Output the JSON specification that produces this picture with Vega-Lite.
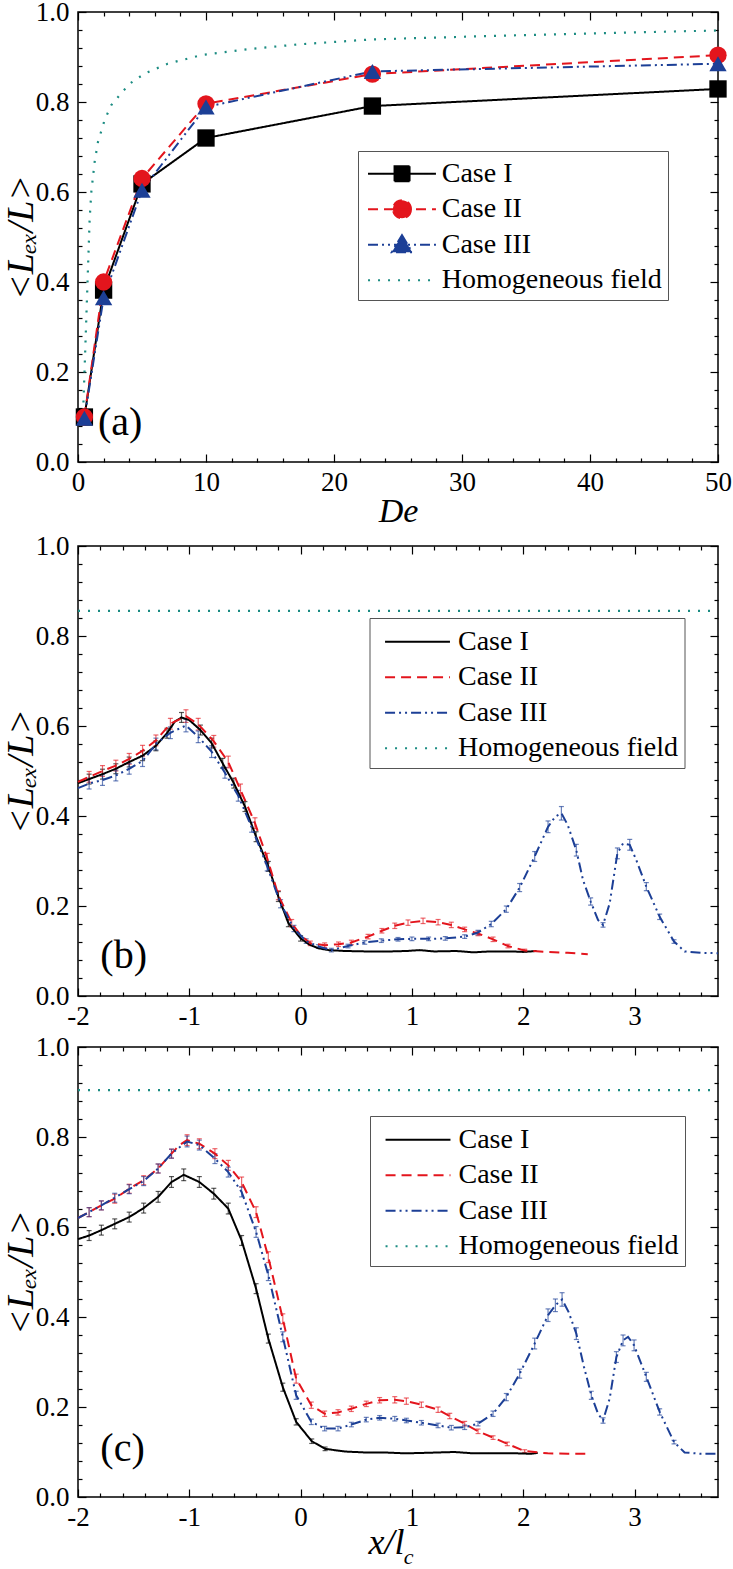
{
  "$schema": "https://vega.github.io/schema/vega-lite/v6.json",
  "padding": {"left": 1, "top": -3, "right": 0, "bottom": 0},
  "spacing": 2,
  "resolve": {"scale": {"color": "independent", "strokeDash": "independent", "shape": "independent"}, "legend": {"color": "independent"}},
  "config": {
    "view": {"stroke": "#000", "strokeWidth": 1.5},
    "font": "Liberation Serif",
    "axis": {"domain": false, "grid": false, "tickColor": "#000", "tickWidth": 1.2, "labelFont": "Liberation Serif", "labelFontSize": 27, "labelColor": "#000", "titleFont": "Liberation Serif", "titleFontWeight": "normal", "titleColor": "#000", "labelOverlap": false, "labelFlush": false}
  },
  "datasets": {
    "homA": [
      {"De": 0.4, "v": 0.11, "case": "Homogeneous field"},
      {"De": 0.52, "v": 0.21, "case": "Homogeneous field"},
      {"De": 0.65, "v": 0.32, "case": "Homogeneous field"},
      {"De": 0.78, "v": 0.43, "case": "Homogeneous field"},
      {"De": 0.91, "v": 0.54, "case": "Homogeneous field"},
      {"De": 1.04, "v": 0.6, "case": "Homogeneous field"},
      {"De": 1.3, "v": 0.667, "case": "Homogeneous field"},
      {"De": 1.56, "v": 0.711, "case": "Homogeneous field"},
      {"De": 2.08, "v": 0.76, "case": "Homogeneous field"},
      {"De": 2.6, "v": 0.793, "case": "Homogeneous field"},
      {"De": 3.1, "v": 0.81, "case": "Homogeneous field"},
      {"De": 4.0, "v": 0.84, "case": "Homogeneous field"},
      {"De": 5.2, "v": 0.863, "case": "Homogeneous field"},
      {"De": 7.0, "v": 0.885, "case": "Homogeneous field"},
      {"De": 9.6, "v": 0.904, "case": "Homogeneous field"},
      {"De": 13.5, "v": 0.918, "case": "Homogeneous field"},
      {"De": 17.2, "v": 0.928, "case": "Homogeneous field"},
      {"De": 22.9, "v": 0.939, "case": "Homogeneous field"},
      {"De": 33.8, "v": 0.948, "case": "Homogeneous field"},
      {"De": 50, "v": 0.959, "case": "Homogeneous field"}
    ],
    "caseA": [
      {"De": 0.5, "v": 0.1, "case": "Case I"},
      {"De": 2, "v": 0.382, "case": "Case I"},
      {"De": 5, "v": 0.618, "case": "Case I"},
      {"De": 10, "v": 0.72, "case": "Case I"},
      {"De": 23, "v": 0.791, "case": "Case I"},
      {"De": 50, "v": 0.829, "case": "Case I"},
      {"De": 0.5, "v": 0.1, "case": "Case II"},
      {"De": 2, "v": 0.4, "case": "Case II"},
      {"De": 5, "v": 0.63, "case": "Case II"},
      {"De": 10, "v": 0.796, "case": "Case II"},
      {"De": 23, "v": 0.862, "case": "Case II"},
      {"De": 50, "v": 0.904, "case": "Case II"},
      {"De": 0.5, "v": 0.097, "case": "Case III"},
      {"De": 2, "v": 0.365, "case": "Case III"},
      {"De": 5, "v": 0.604, "case": "Case III"},
      {"De": 10, "v": 0.789, "case": "Case III"},
      {"De": 23, "v": 0.868, "case": "Case III"},
      {"De": 50, "v": 0.885, "case": "Case III"}
    ],
    "homB": [
      {"x": -2, "v": 0.856, "case": "Homogeneous field"},
      {"x": 3.75, "v": 0.856, "case": "Homogeneous field"}
    ],
    "homC": [
      {"x": -2, "v": 0.904, "case": "Homogeneous field"},
      {"x": 3.75, "v": 0.904, "case": "Homogeneous field"}
    ],
    "caseB": [
      {"x": -2.0, "v": 0.473, "e": 0, "case": "Case I"},
      {"x": -1.9, "v": 0.482, "e": 0.011, "case": "Case I"},
      {"x": -1.78, "v": 0.493, "e": 0.011, "case": "Case I"},
      {"x": -1.66, "v": 0.505, "e": 0.011, "case": "Case I"},
      {"x": -1.54, "v": 0.52, "e": 0.011, "case": "Case I"},
      {"x": -1.42, "v": 0.534, "e": 0.011, "case": "Case I"},
      {"x": -1.3, "v": 0.556, "e": 0.011, "case": "Case I"},
      {"x": -1.2, "v": 0.584, "e": 0.011, "case": "Case I"},
      {"x": -1.13, "v": 0.61, "e": 0, "case": "Case I"},
      {"x": -1.07, "v": 0.619, "e": 0.011, "case": "Case I"},
      {"x": -1.0, "v": 0.613, "e": 0, "case": "Case I"},
      {"x": -0.9, "v": 0.591, "e": 0.011, "case": "Case I"},
      {"x": -0.8, "v": 0.562, "e": 0.011, "case": "Case I"},
      {"x": -0.7, "v": 0.517, "e": 0.011, "case": "Case I"},
      {"x": -0.6, "v": 0.473, "e": 0.011, "case": "Case I"},
      {"x": -0.5, "v": 0.421, "e": 0.011, "case": "Case I"},
      {"x": -0.4, "v": 0.354, "e": 0.011, "case": "Case I"},
      {"x": -0.29, "v": 0.288, "e": 0.011, "case": "Case I"},
      {"x": -0.2, "v": 0.221, "e": 0.011, "case": "Case I"},
      {"x": -0.11, "v": 0.162, "e": 0.008, "case": "Case I"},
      {"x": 0.0, "v": 0.128, "e": 0.006, "case": "Case I"},
      {"x": 0.08, "v": 0.114, "e": 0, "case": "Case I"},
      {"x": 0.16, "v": 0.106, "e": 0, "case": "Case I"},
      {"x": 0.25, "v": 0.102, "e": 0, "case": "Case I"},
      {"x": 0.4, "v": 0.1, "e": 0, "case": "Case I"},
      {"x": 0.6, "v": 0.099, "e": 0, "case": "Case I"},
      {"x": 0.8, "v": 0.099, "e": 0, "case": "Case I"},
      {"x": 0.95, "v": 0.1, "e": 0, "case": "Case I"},
      {"x": 1.07, "v": 0.102, "e": 0, "case": "Case I"},
      {"x": 1.2, "v": 0.099, "e": 0, "case": "Case I"},
      {"x": 1.4, "v": 0.1, "e": 0, "case": "Case I"},
      {"x": 1.55, "v": 0.097, "e": 0, "case": "Case I"},
      {"x": 1.7, "v": 0.099, "e": 0, "case": "Case I"},
      {"x": 1.9, "v": 0.099, "e": 0, "case": "Case I"},
      {"x": 2.0, "v": 0.098, "e": 0, "case": "Case I"},
      {"x": 2.12, "v": 0.1, "e": 0, "case": "Case I"},

      {"x": -2.0, "v": 0.476, "e": 0, "case": "Case II"},
      {"x": -1.9, "v": 0.487, "e": 0.012, "case": "Case II"},
      {"x": -1.78, "v": 0.5, "e": 0.012, "case": "Case II"},
      {"x": -1.66, "v": 0.512, "e": 0.012, "case": "Case II"},
      {"x": -1.54, "v": 0.527, "e": 0.012, "case": "Case II"},
      {"x": -1.42, "v": 0.545, "e": 0.012, "case": "Case II"},
      {"x": -1.3, "v": 0.568, "e": 0.012, "case": "Case II"},
      {"x": -1.17, "v": 0.605, "e": 0.012, "case": "Case II"},
      {"x": -1.03, "v": 0.622, "e": 0.014, "case": "Case II"},
      {"x": -0.92, "v": 0.604, "e": 0.013, "case": "Case II"},
      {"x": -0.78, "v": 0.566, "e": 0.013, "case": "Case II"},
      {"x": -0.65, "v": 0.52, "e": 0.013, "case": "Case II"},
      {"x": -0.54, "v": 0.458, "e": 0.013, "case": "Case II"},
      {"x": -0.41, "v": 0.384, "e": 0.012, "case": "Case II"},
      {"x": -0.3, "v": 0.306, "e": 0.011, "case": "Case II"},
      {"x": -0.2, "v": 0.224, "e": 0.01, "case": "Case II"},
      {"x": -0.08, "v": 0.162, "e": 0.008, "case": "Case II"},
      {"x": 0.0, "v": 0.135, "e": 0, "case": "Case II"},
      {"x": 0.087, "v": 0.117, "e": 0.005, "case": "Case II"},
      {"x": 0.216, "v": 0.113, "e": 0.005, "case": "Case II"},
      {"x": 0.34, "v": 0.115, "e": 0.005, "case": "Case II"},
      {"x": 0.456, "v": 0.119, "e": 0.005, "case": "Case II"},
      {"x": 0.606, "v": 0.132, "e": 0.005, "case": "Case II"},
      {"x": 0.73, "v": 0.145, "e": 0.005, "case": "Case II"},
      {"x": 0.846, "v": 0.156, "e": 0.006, "case": "Case II"},
      {"x": 0.965, "v": 0.163, "e": 0.006, "case": "Case II"},
      {"x": 1.1, "v": 0.167, "e": 0.006, "case": "Case II"},
      {"x": 1.235, "v": 0.164, "e": 0.006, "case": "Case II"},
      {"x": 1.354, "v": 0.158, "e": 0.006, "case": "Case II"},
      {"x": 1.474, "v": 0.148, "e": 0.005, "case": "Case II"},
      {"x": 1.594, "v": 0.139, "e": 0.005, "case": "Case II"},
      {"x": 1.729, "v": 0.126, "e": 0.005, "case": "Case II"},
      {"x": 1.863, "v": 0.111, "e": 0.004, "case": "Case II"},
      {"x": 2.013, "v": 0.101, "e": 0.003, "case": "Case II"},
      {"x": 2.22, "v": 0.098, "e": 0, "case": "Case II"},
      {"x": 2.4, "v": 0.096, "e": 0, "case": "Case II"},
      {"x": 2.58, "v": 0.093, "e": 0, "case": "Case II"},

      {"x": -2.0, "v": 0.462, "e": 0, "case": "Case III"},
      {"x": -1.9, "v": 0.472, "e": 0.012, "case": "Case III"},
      {"x": -1.78, "v": 0.48, "e": 0.012, "case": "Case III"},
      {"x": -1.66, "v": 0.49, "e": 0.012, "case": "Case III"},
      {"x": -1.54, "v": 0.505, "e": 0.012, "case": "Case III"},
      {"x": -1.42, "v": 0.522, "e": 0.012, "case": "Case III"},
      {"x": -1.3, "v": 0.56, "e": 0.013, "case": "Case III"},
      {"x": -1.17, "v": 0.585, "e": 0.013, "case": "Case III"},
      {"x": -1.03, "v": 0.601, "e": 0.014, "case": "Case III"},
      {"x": -0.92, "v": 0.576, "e": 0.013, "case": "Case III"},
      {"x": -0.8, "v": 0.543, "e": 0.013, "case": "Case III"},
      {"x": -0.68, "v": 0.496, "e": 0.012, "case": "Case III"},
      {"x": -0.56, "v": 0.445, "e": 0.012, "case": "Case III"},
      {"x": -0.44, "v": 0.375, "e": 0.011, "case": "Case III"},
      {"x": -0.3, "v": 0.288, "e": 0.01, "case": "Case III"},
      {"x": -0.18, "v": 0.205, "e": 0.009, "case": "Case III"},
      {"x": -0.06, "v": 0.15, "e": 0.007, "case": "Case III"},
      {"x": 0.05, "v": 0.122, "e": 0.005, "case": "Case III"},
      {"x": 0.16, "v": 0.11, "e": 0.004, "case": "Case III"},
      {"x": 0.276, "v": 0.102, "e": 0.004, "case": "Case III"},
      {"x": 0.426, "v": 0.111, "e": 0.004, "case": "Case III"},
      {"x": 0.576, "v": 0.119, "e": 0.004, "case": "Case III"},
      {"x": 0.725, "v": 0.123, "e": 0.004, "case": "Case III"},
      {"x": 0.875, "v": 0.126, "e": 0.004, "case": "Case III"},
      {"x": 1.0, "v": 0.127, "e": 0.004, "case": "Case III"},
      {"x": 1.15, "v": 0.127, "e": 0.004, "case": "Case III"},
      {"x": 1.3, "v": 0.128, "e": 0.004, "case": "Case III"},
      {"x": 1.474, "v": 0.132, "e": 0.004, "case": "Case III"},
      {"x": 1.594, "v": 0.141, "e": 0.005, "case": "Case III"},
      {"x": 1.713, "v": 0.16, "e": 0.006, "case": "Case III"},
      {"x": 1.848, "v": 0.193, "e": 0.007, "case": "Case III"},
      {"x": 1.968, "v": 0.241, "e": 0.009, "case": "Case III"},
      {"x": 2.103, "v": 0.31, "e": 0.011, "case": "Case III"},
      {"x": 2.223, "v": 0.376, "e": 0.013, "case": "Case III"},
      {"x": 2.289, "v": 0.399, "e": 0, "case": "Case III"},
      {"x": 2.343, "v": 0.406, "e": 0.015, "case": "Case III"},
      {"x": 2.4, "v": 0.38, "e": 0, "case": "Case III"},
      {"x": 2.477, "v": 0.324, "e": 0.013, "case": "Case III"},
      {"x": 2.537, "v": 0.258, "e": 0, "case": "Case III"},
      {"x": 2.606, "v": 0.21, "e": 0.008, "case": "Case III"},
      {"x": 2.672, "v": 0.169, "e": 0, "case": "Case III"},
      {"x": 2.717, "v": 0.158, "e": 0.005, "case": "Case III"},
      {"x": 2.777, "v": 0.206, "e": 0, "case": "Case III"},
      {"x": 2.846, "v": 0.317, "e": 0.012, "case": "Case III"},
      {"x": 2.897, "v": 0.339, "e": 0, "case": "Case III"},
      {"x": 2.957, "v": 0.336, "e": 0.012, "case": "Case III"},
      {"x": 3.016, "v": 0.302, "e": 0, "case": "Case III"},
      {"x": 3.106, "v": 0.243, "e": 0.009, "case": "Case III"},
      {"x": 3.226, "v": 0.176, "e": 0.006, "case": "Case III"},
      {"x": 3.355, "v": 0.121, "e": 0.004, "case": "Case III"},
      {"x": 3.45, "v": 0.099, "e": 0, "case": "Case III"},
      {"x": 3.6, "v": 0.096, "e": 0, "case": "Case III"},
      {"x": 3.75, "v": 0.095, "e": 0, "case": "Case III"}
    ],
    "caseC": [
      {"x": -2.0, "v": 0.573, "e": 0, "case": "Case I"},
      {"x": -1.9, "v": 0.581, "e": 0.011, "case": "Case I"},
      {"x": -1.79, "v": 0.593, "e": 0.011, "case": "Case I"},
      {"x": -1.67, "v": 0.607, "e": 0.011, "case": "Case I"},
      {"x": -1.54, "v": 0.622, "e": 0.011, "case": "Case I"},
      {"x": -1.41, "v": 0.642, "e": 0.011, "case": "Case I"},
      {"x": -1.28, "v": 0.667, "e": 0.012, "case": "Case I"},
      {"x": -1.16, "v": 0.7, "e": 0.012, "case": "Case I"},
      {"x": -1.05, "v": 0.716, "e": 0.013, "case": "Case I"},
      {"x": -0.91, "v": 0.7, "e": 0.012, "case": "Case I"},
      {"x": -0.78, "v": 0.674, "e": 0.012, "case": "Case I"},
      {"x": -0.65, "v": 0.641, "e": 0.012, "case": "Case I"},
      {"x": -0.53, "v": 0.57, "e": 0.011, "case": "Case I"},
      {"x": -0.4, "v": 0.463, "e": 0.011, "case": "Case I"},
      {"x": -0.29, "v": 0.352, "e": 0.01, "case": "Case I"},
      {"x": -0.16, "v": 0.244, "e": 0.009, "case": "Case I"},
      {"x": -0.04, "v": 0.167, "e": 0.007, "case": "Case I"},
      {"x": 0.1, "v": 0.124, "e": 0.005, "case": "Case I"},
      {"x": 0.22, "v": 0.107, "e": 0.004, "case": "Case I"},
      {"x": 0.4, "v": 0.101, "e": 0, "case": "Case I"},
      {"x": 0.58, "v": 0.099, "e": 0, "case": "Case I"},
      {"x": 0.75, "v": 0.099, "e": 0, "case": "Case I"},
      {"x": 0.94, "v": 0.097, "e": 0, "case": "Case I"},
      {"x": 1.1, "v": 0.098, "e": 0, "case": "Case I"},
      {"x": 1.385, "v": 0.1, "e": 0, "case": "Case I"},
      {"x": 1.55, "v": 0.097, "e": 0, "case": "Case I"},
      {"x": 1.77, "v": 0.097, "e": 0, "case": "Case I"},
      {"x": 1.95, "v": 0.097, "e": 0, "case": "Case I"},
      {"x": 2.07, "v": 0.096, "e": 0, "case": "Case I"},
      {"x": 2.13, "v": 0.098, "e": 0, "case": "Case I"},

      {"x": -2.0, "v": 0.62, "e": 0, "case": "Case II"},
      {"x": -1.9, "v": 0.633, "e": 0.01, "case": "Case II"},
      {"x": -1.79, "v": 0.648, "e": 0.01, "case": "Case II"},
      {"x": -1.67, "v": 0.663, "e": 0.01, "case": "Case II"},
      {"x": -1.54, "v": 0.685, "e": 0.01, "case": "Case II"},
      {"x": -1.41, "v": 0.704, "e": 0.01, "case": "Case II"},
      {"x": -1.28, "v": 0.73, "e": 0.01, "case": "Case II"},
      {"x": -1.16, "v": 0.763, "e": 0.01, "case": "Case II"},
      {"x": -1.09, "v": 0.782, "e": 0, "case": "Case II"},
      {"x": -1.02, "v": 0.793, "e": 0.012, "case": "Case II"},
      {"x": -0.91, "v": 0.785, "e": 0.011, "case": "Case II"},
      {"x": -0.77, "v": 0.763, "e": 0.011, "case": "Case II"},
      {"x": -0.65, "v": 0.737, "e": 0.011, "case": "Case II"},
      {"x": -0.53, "v": 0.7, "e": 0.011, "case": "Case II"},
      {"x": -0.4, "v": 0.633, "e": 0.012, "case": "Case II"},
      {"x": -0.29, "v": 0.533, "e": 0.012, "case": "Case II"},
      {"x": -0.16, "v": 0.396, "e": 0.011, "case": "Case II"},
      {"x": -0.04, "v": 0.263, "e": 0.01, "case": "Case II"},
      {"x": 0.096, "v": 0.204, "e": 0.007, "case": "Case II"},
      {"x": 0.216, "v": 0.185, "e": 0.006, "case": "Case II"},
      {"x": 0.336, "v": 0.188, "e": 0.006, "case": "Case II"},
      {"x": 0.456, "v": 0.196, "e": 0.006, "case": "Case II"},
      {"x": 0.59, "v": 0.207, "e": 0.006, "case": "Case II"},
      {"x": 0.71, "v": 0.215, "e": 0.006, "case": "Case II"},
      {"x": 0.846, "v": 0.216, "e": 0.007, "case": "Case II"},
      {"x": 0.95, "v": 0.213, "e": 0.007, "case": "Case II"},
      {"x": 1.085, "v": 0.205, "e": 0.006, "case": "Case II"},
      {"x": 1.235, "v": 0.194, "e": 0.006, "case": "Case II"},
      {"x": 1.34, "v": 0.18, "e": 0.006, "case": "Case II"},
      {"x": 1.474, "v": 0.163, "e": 0.005, "case": "Case II"},
      {"x": 1.594, "v": 0.146, "e": 0.005, "case": "Case II"},
      {"x": 1.729, "v": 0.132, "e": 0.004, "case": "Case II"},
      {"x": 1.857, "v": 0.118, "e": 0.004, "case": "Case II"},
      {"x": 2.013, "v": 0.102, "e": 0.003, "case": "Case II"},
      {"x": 2.22, "v": 0.097, "e": 0, "case": "Case II"},
      {"x": 2.4, "v": 0.096, "e": 0, "case": "Case II"},
      {"x": 2.58, "v": 0.096, "e": 0, "case": "Case II"},

      {"x": -2.0, "v": 0.62, "e": 0, "case": "Case III"},
      {"x": -1.9, "v": 0.633, "e": 0.01, "case": "Case III"},
      {"x": -1.79, "v": 0.648, "e": 0.01, "case": "Case III"},
      {"x": -1.67, "v": 0.665, "e": 0.01, "case": "Case III"},
      {"x": -1.54, "v": 0.684, "e": 0.01, "case": "Case III"},
      {"x": -1.41, "v": 0.702, "e": 0.01, "case": "Case III"},
      {"x": -1.28, "v": 0.73, "e": 0.01, "case": "Case III"},
      {"x": -1.16, "v": 0.763, "e": 0.01, "case": "Case III"},
      {"x": -1.02, "v": 0.79, "e": 0.012, "case": "Case III"},
      {"x": -0.91, "v": 0.782, "e": 0.011, "case": "Case III"},
      {"x": -0.77, "v": 0.752, "e": 0.011, "case": "Case III"},
      {"x": -0.65, "v": 0.722, "e": 0.011, "case": "Case III"},
      {"x": -0.53, "v": 0.678, "e": 0.011, "case": "Case III"},
      {"x": -0.46, "v": 0.63, "e": 0, "case": "Case III"},
      {"x": -0.4, "v": 0.589, "e": 0.012, "case": "Case III"},
      {"x": -0.29, "v": 0.493, "e": 0.012, "case": "Case III"},
      {"x": -0.16, "v": 0.356, "e": 0.011, "case": "Case III"},
      {"x": -0.04, "v": 0.226, "e": 0.009, "case": "Case III"},
      {"x": 0.096, "v": 0.167, "e": 0.006, "case": "Case III"},
      {"x": 0.216, "v": 0.152, "e": 0.005, "case": "Case III"},
      {"x": 0.336, "v": 0.152, "e": 0.005, "case": "Case III"},
      {"x": 0.456, "v": 0.161, "e": 0.005, "case": "Case III"},
      {"x": 0.59, "v": 0.172, "e": 0.005, "case": "Case III"},
      {"x": 0.71, "v": 0.176, "e": 0.005, "case": "Case III"},
      {"x": 0.846, "v": 0.174, "e": 0.005, "case": "Case III"},
      {"x": 0.95, "v": 0.17, "e": 0.005, "case": "Case III"},
      {"x": 1.085, "v": 0.165, "e": 0.005, "case": "Case III"},
      {"x": 1.235, "v": 0.159, "e": 0.005, "case": "Case III"},
      {"x": 1.354, "v": 0.154, "e": 0.005, "case": "Case III"},
      {"x": 1.474, "v": 0.155, "e": 0.005, "case": "Case III"},
      {"x": 1.594, "v": 0.163, "e": 0.005, "case": "Case III"},
      {"x": 1.729, "v": 0.185, "e": 0.006, "case": "Case III"},
      {"x": 1.848, "v": 0.222, "e": 0.008, "case": "Case III"},
      {"x": 1.968, "v": 0.274, "e": 0.01, "case": "Case III"},
      {"x": 2.103, "v": 0.341, "e": 0.012, "case": "Case III"},
      {"x": 2.223, "v": 0.404, "e": 0.014, "case": "Case III"},
      {"x": 2.289, "v": 0.426, "e": 0.014, "case": "Case III"},
      {"x": 2.349, "v": 0.439, "e": 0.015, "case": "Case III"},
      {"x": 2.408, "v": 0.411, "e": 0, "case": "Case III"},
      {"x": 2.477, "v": 0.363, "e": 0.013, "case": "Case III"},
      {"x": 2.546, "v": 0.289, "e": 0, "case": "Case III"},
      {"x": 2.612, "v": 0.226, "e": 0.009, "case": "Case III"},
      {"x": 2.672, "v": 0.185, "e": 0, "case": "Case III"},
      {"x": 2.717, "v": 0.17, "e": 0.006, "case": "Case III"},
      {"x": 2.777, "v": 0.219, "e": 0, "case": "Case III"},
      {"x": 2.837, "v": 0.311, "e": 0.012, "case": "Case III"},
      {"x": 2.897, "v": 0.348, "e": 0.012, "case": "Case III"},
      {"x": 2.942, "v": 0.356, "e": 0, "case": "Case III"},
      {"x": 2.996, "v": 0.337, "e": 0.012, "case": "Case III"},
      {"x": 3.106, "v": 0.267, "e": 0.01, "case": "Case III"},
      {"x": 3.226, "v": 0.189, "e": 0.007, "case": "Case III"},
      {"x": 3.355, "v": 0.122, "e": 0.004, "case": "Case III"},
      {"x": 3.45, "v": 0.099, "e": 0, "case": "Case III"},
      {"x": 3.6, "v": 0.096, "e": 0, "case": "Case III"},
      {"x": 3.75, "v": 0.096, "e": 0, "case": "Case III"}
    ]
  },
  "vconcat": [
    {
      "width": 640,
      "height": 450,
      "resolve": {"axis": {"x": "independent", "y": "independent"}},
      "layer": [
        {
          "data": {"name": "homA"},
          "mark": {"type": "line", "strokeDash": [2, 8], "strokeWidth": 2.2},
          "encoding": {
            "x": {"field": "De", "type": "quantitative", "scale": {"domain": [0, 50], "nice": false, "zero": false},
                  "axis": {"orient": "bottom", "values": [0, 10, 20, 30, 40, 50], "tickSize": -8, "labelPadding": 15, "format": "d", "title": "De", "titleFontStyle": "italic", "titleFontSize": 34, "titlePadding": -1}},
            "y": {"field": "v", "type": "quantitative", "scale": {"domain": [0, 1], "nice": false, "zero": false},
                  "axis": {"orient": "left", "values": [0, 0.2, 0.4, 0.6, 0.8, 1.0], "tickSize": -8, "labelPadding": 17, "format": ".1f", "title": "<Lₑₓ/L>", "titleFontStyle": "italic", "titleFontSize": 38, "titlePadding": -5}},
            "color": {"field": "case", "type": "nominal",
                      "scale": {"domain": ["Case I", "Case II", "Case III", "Homogeneous field"], "range": ["#000000", "#e3151d", "#1c3f96", "#1b8c82"]},
                      "legend": {
                        "orient": "none", "legendX": 280, "legendY": 139, "title": null, "direction": "vertical", "columns": 1,
                        "padding": 5.75, "rowPadding": 4.5, "strokeColor": "#555", "fillColor": "#fff",
                        "labelFont": "Liberation Serif", "labelFontSize": 28, "labelColor": "#000", "labelOffset": 50, "labelLimit": 400,
                        "symbolSize": 576, "symbolStrokeWidth": 2, "symbolOffset": 0,
                        "encode": {
                          "labels": {"update": {"dy": {"value": 3}}},
                          "symbols": {"update": {
                          "shape": {"signal": "datum.value === 'Case I' ? 'M-1.17,0M-0.81,0.25H4.85M1.4,-0.375H2.65V0.875H1.4Z' : datum.value === 'Case II' ? 'M-1.17,0M-0.81,0.25H4.85M2.77,0.25A0.75,0.75,0,1,1,1.27,0.25A0.75,0.75,0,1,1,2.77,0.25Z' : datum.value === 'Case III' ? 'M-1.17,0M-0.81,0.25H4.85M2.02,-0.55L2.87,0.87H1.17Z' : 'M-1.17,0M-0.81,0.25H4.85'"},
                          "strokeDash": {"signal": "datum.value === 'Case II' ? [10,6] : datum.value === 'Case III' ? [10,4,2,4,2,4] : datum.value === 'Homogeneous field' ? [2,8] : [1,0]"},
                          "stroke": {"signal": "datum.value === 'Case I' ? '#000000' : datum.value === 'Case II' ? '#e3151d' : datum.value === 'Case III' ? '#1c3f96' : '#1b8c82'"},
                          "fill": {"signal": "datum.value === 'Case I' ? '#000000' : datum.value === 'Case II' ? '#e3151d' : datum.value === 'Case III' ? '#1c3f96' : '#1b8c82'"},
                          "fillOpacity": {"value": 1},
                          "strokeWidth": {"value": 2},
                          "size": {"value": 576},
                          "opacity": {"value": 1}
                        }}}
                      }}
          }
        },
        {
          "data": {"name": "homA"},
          "mark": {"type": "point", "opacity": 0},
          "encoding": {
            "x": {"field": "De", "type": "quantitative", "axis": {"orient": "bottom", "values": [2, 4, 6, 8, 12, 14, 16, 18, 22, 24, 26, 28, 32, 34, 36, 38, 42, 44, 46, 48], "tickSize": -4, "labels": false, "title": null}},
            "y": {"field": "v", "type": "quantitative", "axis": {"orient": "left", "values": [0.04, 0.08, 0.12, 0.16, 0.24, 0.28, 0.32, 0.36, 0.44, 0.48, 0.52, 0.56, 0.64, 0.68, 0.72, 0.76, 0.84, 0.88, 0.92, 0.96], "tickSize": -4, "labels": false, "title": null}}
          }
        },
        {
          "data": {"name": "homA"},
          "mark": {"type": "point", "opacity": 0},
          "encoding": {
            "x": {"field": "De", "type": "quantitative", "axis": {"orient": "top", "values": [0, 10, 20, 30, 40, 50], "tickSize": -8, "labels": false, "title": null}},
            "y": {"field": "v", "type": "quantitative", "axis": {"orient": "right", "values": [0, 0.2, 0.4, 0.6, 0.8, 1.0], "tickSize": -8, "labels": false, "title": null}}
          }
        },
        {
          "data": {"name": "homA"},
          "mark": {"type": "point", "opacity": 0},
          "encoding": {
            "x": {"field": "De", "type": "quantitative", "axis": {"orient": "top", "values": [2, 4, 6, 8, 12, 14, 16, 18, 22, 24, 26, 28, 32, 34, 36, 38, 42, 44, 46, 48], "tickSize": -4, "labels": false, "title": null}},
            "y": {"field": "v", "type": "quantitative", "axis": {"orient": "right", "values": [0.04, 0.08, 0.12, 0.16, 0.24, 0.28, 0.32, 0.36, 0.44, 0.48, 0.52, 0.56, 0.64, 0.68, 0.72, 0.76, 0.84, 0.88, 0.92, 0.96], "tickSize": -4, "labels": false, "title": null}}
          }
        },
        {
          "data": {"name": "caseA"},
          "mark": {"type": "line", "strokeWidth": 2},
          "encoding": {
            "x": {"field": "De", "type": "quantitative", "axis": null},
            "y": {"field": "v", "type": "quantitative", "axis": null},
            "color": {"field": "case", "type": "nominal"},
            "strokeDash": {"field": "case", "type": "nominal", "scale": {"domain": ["Case I", "Case II", "Case III"], "range": [[1, 0], [10, 6], [10, 4, 2, 4, 2, 4]]}, "legend": null}
          }
        },
        {
          "data": {"name": "caseA"},
          "mark": {"type": "point", "filled": true, "opacity": 1, "size": 300},
          "encoding": {
            "x": {"field": "De", "type": "quantitative", "axis": null},
            "y": {"field": "v", "type": "quantitative", "axis": null},
            "color": {"field": "case", "type": "nominal"},
            "shape": {"field": "case", "type": "nominal", "scale": {"domain": ["Case I", "Case II", "Case III"], "range": ["square", "circle", "triangle-up"]}, "legend": null}
          }
        },
        {
          "data": {"values": [{}]},
          "mark": {"type": "text", "fontSize": 40, "font": "Liberation Serif", "color": "#000", "baseline": "middle"},
          "encoding": {
            "x": {"datum": 3.3, "type": "quantitative", "axis": null},
            "y": {"datum": 0.087, "type": "quantitative", "axis": null},
            "text": {"value": "(a)"}
          }
        }
      ]
    },
    {
      "width": 640,
      "height": 450,
      "resolve": {"axis": {"x": "independent", "y": "independent"}},
      "layer": [
        {
          "data": {"name": "homB"},
          "mark": {"type": "line", "strokeDash": [2, 8], "strokeWidth": 2.2},
          "encoding": {
            "x": {"field": "x", "type": "quantitative", "scale": {"domain": [-2, 3.75], "nice": false, "zero": false},
                  "axis": {"orient": "bottom", "values": [-2, -1, 0, 1, 2, 3], "tickSize": -8, "labelPadding": 15, "labelExpr": "'' + datum.value", "title": null}},
            "y": {"field": "v", "type": "quantitative", "scale": {"domain": [0, 1], "nice": false, "zero": false},
                  "axis": {"orient": "left", "values": [0, 0.2, 0.4, 0.6, 0.8, 1.0], "tickSize": -8, "labelPadding": 17, "format": ".1f", "title": "<Lₑₓ/L>", "titleFontStyle": "italic", "titleFontSize": 38, "titlePadding": -5}},
            "color": {"field": "case", "type": "nominal",
                      "scale": {"domain": ["Case I", "Case II", "Case III", "Homogeneous field"], "range": ["#000000", "#e3151d", "#1c3f96", "#1b8c82"]},
                      "legend": {
                        "orient": "none", "legendX": 291.5, "legendY": 72, "title": null, "direction": "vertical", "columns": 1,
                        "padding": 5.75, "rowPadding": 3.5, "strokeColor": "#555", "fillColor": "#fff",
                        "labelFont": "Liberation Serif", "labelFontSize": 28, "labelColor": "#000", "labelOffset": 54.75, "labelLimit": 400,
                        "symbolSize": 576, "symbolStrokeWidth": 2, "symbolOffset": 0,
                        "encode": {
                          "labels": {"update": {"dy": {"value": 4}}},
                          "symbols": {"update": {
                          "shape": {"value": "M-1.17,0M-0.35,0.33H5.06"},
                          "strokeDash": {"signal": "datum.value === 'Case II' ? [10,6] : datum.value === 'Case III' ? [10,4,2,4,2,4] : datum.value === 'Homogeneous field' ? [2,8] : [1,0]"},
                          "stroke": {"signal": "datum.value === 'Case I' ? '#000000' : datum.value === 'Case II' ? '#e3151d' : datum.value === 'Case III' ? '#1c3f96' : '#1b8c82'"},
                          "fill": {"value": "transparent"},
                          "strokeWidth": {"value": 2},
                          "size": {"value": 576},
                          "opacity": {"value": 1}
                        }}}
                      }}
          }
        },
        {
          "data": {"name": "homB"},
          "mark": {"type": "point", "opacity": 0},
          "encoding": {
            "x": {"field": "x", "type": "quantitative", "axis": {"orient": "bottom", "values": [-1.8, -1.6, -1.4, -1.2, -0.8, -0.6, -0.4, -0.2, 0.2, 0.4, 0.6, 0.8, 1.2, 1.4, 1.6, 1.8, 2.2, 2.4, 2.6, 2.8, 3.2, 3.4, 3.6], "tickSize": -4, "labels": false, "title": null}},
            "y": {"field": "v", "type": "quantitative", "axis": {"orient": "left", "values": [0.04, 0.08, 0.12, 0.16, 0.24, 0.28, 0.32, 0.36, 0.44, 0.48, 0.52, 0.56, 0.64, 0.68, 0.72, 0.76, 0.84, 0.88, 0.92, 0.96], "tickSize": -4, "labels": false, "title": null}}
          }
        },
        {
          "data": {"name": "homB"},
          "mark": {"type": "point", "opacity": 0},
          "encoding": {
            "x": {"field": "x", "type": "quantitative", "axis": {"orient": "top", "values": [-2, -1, 0, 1, 2, 3], "tickSize": -8, "labels": false, "title": null}},
            "y": {"field": "v", "type": "quantitative", "axis": {"orient": "right", "values": [0, 0.2, 0.4, 0.6, 0.8, 1.0], "tickSize": -8, "labels": false, "title": null}}
          }
        },
        {
          "data": {"name": "homB"},
          "mark": {"type": "point", "opacity": 0},
          "encoding": {
            "x": {"field": "x", "type": "quantitative", "axis": {"orient": "top", "values": [-1.8, -1.6, -1.4, -1.2, -0.8, -0.6, -0.4, -0.2, 0.2, 0.4, 0.6, 0.8, 1.2, 1.4, 1.6, 1.8, 2.2, 2.4, 2.6, 2.8, 3.2, 3.4, 3.6], "tickSize": -4, "labels": false, "title": null}},
            "y": {"field": "v", "type": "quantitative", "axis": {"orient": "right", "values": [0.04, 0.08, 0.12, 0.16, 0.24, 0.28, 0.32, 0.36, 0.44, 0.48, 0.52, 0.56, 0.64, 0.68, 0.72, 0.76, 0.84, 0.88, 0.92, 0.96], "tickSize": -4, "labels": false, "title": null}}
          }
        },
        {
          "data": {"name": "caseB"},
          "transform": [{"filter": "datum.e > 0"}],
          "mark": {"type": "errorbar", "ticks": true, "opacity": 0.65, "thickness": 1.2},
          "encoding": {
            "x": {"field": "x", "type": "quantitative", "axis": null},
            "y": {"field": "v", "type": "quantitative", "axis": null},
            "yError": {"field": "e"},
            "color": {"field": "case", "type": "nominal"}
          }
        },
        {
          "data": {"name": "caseB"},
          "mark": {"type": "line", "strokeWidth": 2},
          "encoding": {
            "x": {"field": "x", "type": "quantitative", "axis": null},
            "y": {"field": "v", "type": "quantitative", "axis": null},
            "color": {"field": "case", "type": "nominal"},
            "strokeDash": {"field": "case", "type": "nominal", "scale": {"domain": ["Case I", "Case II", "Case III"], "range": [[1, 0], [10, 6], [10, 4, 2, 4, 2, 4]]}, "legend": null}
          }
        },
        {
          "data": {"values": [{}]},
          "mark": {"type": "text", "fontSize": 40, "font": "Liberation Serif", "color": "#000", "baseline": "middle"},
          "encoding": {
            "x": {"datum": -1.59, "type": "quantitative", "axis": null},
            "y": {"datum": 0.089, "type": "quantitative", "axis": null},
            "text": {"value": "(b)"}
          }
        }
      ]
    },
    {
      "width": 640,
      "height": 450,
      "resolve": {"axis": {"x": "independent", "y": "independent"}},
      "layer": [
        {
          "data": {"name": "homC"},
          "mark": {"type": "line", "strokeDash": [2, 8], "strokeWidth": 2.2},
          "encoding": {
            "x": {"field": "x", "type": "quantitative", "scale": {"domain": [-2, 3.75], "nice": false, "zero": false},
                  "axis": {"orient": "bottom", "values": [-2, -1, 0, 1, 2, 3], "tickSize": -8, "labelPadding": 15, "labelExpr": "'' + datum.value", "title": "x/l", "titleFontStyle": "italic", "titleFontSize": 36, "titleX": 308, "titleY": 56, "titleBaseline": "alphabetic", "titleAlign": "center"}},
            "y": {"field": "v", "type": "quantitative", "scale": {"domain": [0, 1], "nice": false, "zero": false},
                  "axis": {"orient": "left", "values": [0, 0.2, 0.4, 0.6, 0.8, 1.0], "tickSize": -8, "labelPadding": 17, "format": ".1f", "title": "<Lₑₓ/L>", "titleFontStyle": "italic", "titleFontSize": 38, "titlePadding": -5}},
            "color": {"field": "case", "type": "nominal",
                      "scale": {"domain": ["Case I", "Case II", "Case III", "Homogeneous field"], "range": ["#000000", "#e3151d", "#1c3f96", "#1b8c82"]},
                      "legend": {
                        "orient": "none", "legendX": 292, "legendY": 69, "title": null, "direction": "vertical", "columns": 1,
                        "padding": 5.75, "rowPadding": 3.5, "strokeColor": "#555", "fillColor": "#fff",
                        "labelFont": "Liberation Serif", "labelFontSize": 28, "labelColor": "#000", "labelOffset": 54.75, "labelLimit": 400,
                        "symbolSize": 576, "symbolStrokeWidth": 2, "symbolOffset": 0,
                        "encode": {
                          "labels": {"update": {"dy": {"value": 4}}},
                          "symbols": {"update": {
                          "shape": {"value": "M-1.17,0M-0.35,0.33H5.06"},
                          "strokeDash": {"signal": "datum.value === 'Case II' ? [10,6] : datum.value === 'Case III' ? [10,4,2,4,2,4] : datum.value === 'Homogeneous field' ? [2,8] : [1,0]"},
                          "stroke": {"signal": "datum.value === 'Case I' ? '#000000' : datum.value === 'Case II' ? '#e3151d' : datum.value === 'Case III' ? '#1c3f96' : '#1b8c82'"},
                          "fill": {"value": "transparent"},
                          "strokeWidth": {"value": 2},
                          "size": {"value": 576},
                          "opacity": {"value": 1}
                        }}}
                      }}
          }
        },
        {
          "data": {"name": "homC"},
          "mark": {"type": "point", "opacity": 0},
          "encoding": {
            "x": {"field": "x", "type": "quantitative", "axis": {"orient": "bottom", "values": [-1.8, -1.6, -1.4, -1.2, -0.8, -0.6, -0.4, -0.2, 0.2, 0.4, 0.6, 0.8, 1.2, 1.4, 1.6, 1.8, 2.2, 2.4, 2.6, 2.8, 3.2, 3.4, 3.6], "tickSize": -4, "labels": false, "title": "c", "titleFontStyle": "italic", "titleFontSize": 22, "titleX": 330, "titleY": 66, "titleBaseline": "alphabetic", "titleAlign": "center"}},
            "y": {"field": "v", "type": "quantitative", "axis": {"orient": "left", "values": [0.04, 0.08, 0.12, 0.16, 0.24, 0.28, 0.32, 0.36, 0.44, 0.48, 0.52, 0.56, 0.64, 0.68, 0.72, 0.76, 0.84, 0.88, 0.92, 0.96], "tickSize": -4, "labels": false, "title": null}}
          }
        },
        {
          "data": {"name": "homC"},
          "mark": {"type": "point", "opacity": 0},
          "encoding": {
            "x": {"field": "x", "type": "quantitative", "axis": {"orient": "top", "values": [-2, -1, 0, 1, 2, 3], "tickSize": -8, "labels": false, "title": null}},
            "y": {"field": "v", "type": "quantitative", "axis": {"orient": "right", "values": [0, 0.2, 0.4, 0.6, 0.8, 1.0], "tickSize": -8, "labels": false, "title": null}}
          }
        },
        {
          "data": {"name": "homC"},
          "mark": {"type": "point", "opacity": 0},
          "encoding": {
            "x": {"field": "x", "type": "quantitative", "axis": {"orient": "top", "values": [-1.8, -1.6, -1.4, -1.2, -0.8, -0.6, -0.4, -0.2, 0.2, 0.4, 0.6, 0.8, 1.2, 1.4, 1.6, 1.8, 2.2, 2.4, 2.6, 2.8, 3.2, 3.4, 3.6], "tickSize": -4, "labels": false, "title": null}},
            "y": {"field": "v", "type": "quantitative", "axis": {"orient": "right", "values": [0.04, 0.08, 0.12, 0.16, 0.24, 0.28, 0.32, 0.36, 0.44, 0.48, 0.52, 0.56, 0.64, 0.68, 0.72, 0.76, 0.84, 0.88, 0.92, 0.96], "tickSize": -4, "labels": false, "title": null}}
          }
        },
        {
          "data": {"name": "caseC"},
          "transform": [{"filter": "datum.e > 0"}],
          "mark": {"type": "errorbar", "ticks": true, "opacity": 0.65, "thickness": 1.2},
          "encoding": {
            "x": {"field": "x", "type": "quantitative", "axis": null},
            "y": {"field": "v", "type": "quantitative", "axis": null},
            "yError": {"field": "e"},
            "color": {"field": "case", "type": "nominal"}
          }
        },
        {
          "data": {"name": "caseC"},
          "mark": {"type": "line", "strokeWidth": 2},
          "encoding": {
            "x": {"field": "x", "type": "quantitative", "axis": null},
            "y": {"field": "v", "type": "quantitative", "axis": null},
            "color": {"field": "case", "type": "nominal"},
            "strokeDash": {"field": "case", "type": "nominal", "scale": {"domain": ["Case I", "Case II", "Case III"], "range": [[1, 0], [10, 6], [10, 4, 2, 4, 2, 4]]}, "legend": null}
          }
        },
        {
          "data": {"values": [{}]},
          "mark": {"type": "text", "fontSize": 40, "font": "Liberation Serif", "color": "#000", "baseline": "middle"},
          "encoding": {
            "x": {"datum": -1.6, "type": "quantitative", "axis": null},
            "y": {"datum": 0.106, "type": "quantitative", "axis": null},
            "text": {"value": "(c)"}
          }
        }
      ]
    }
  ]
}
